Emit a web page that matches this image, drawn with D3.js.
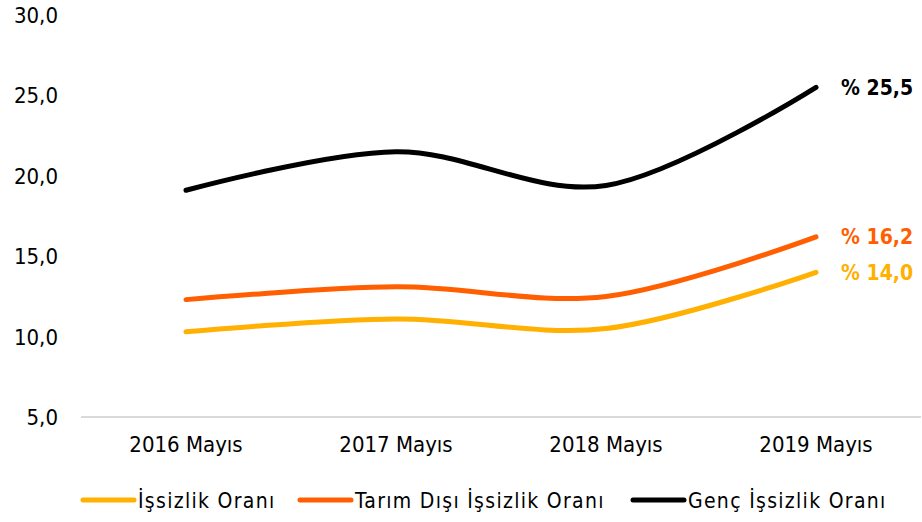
<!DOCTYPE html>
<html><head><meta charset="utf-8">
<script src="https://cdn.jsdelivr.net/npm/d3@7"></script>
<style>body{margin:0;background:#fff}svg{display:block}text{font-family:"DejaVu Sans Condensed","DejaVu Sans",sans-serif}</style>
</head><body><svg id="c" width="922" height="522"></svg>
<script>
const categories = ["2016 Mayıs","2017 Mayıs","2018 Mayıs","2019 Mayıs"];
const issizlik = [10.3, 11.1, 10.5, 14.0];
const tarimDisi = [12.3, 13.1, 12.5, 16.2];
const genc = [19.1, 21.5, 19.4, 25.5];
const yTicks = [5, 10, 15, 20, 25, 30];
const seriesNames = ["İşsizlik Oranı","Tarım Dışı İşsizlik Oranı","Genç İşsizlik Oranı"];
const seriesColors = ["#FFB000","#FF5F00","#000000"];
const endLabels = ["% 14,0","% 16,2","% 25,5"];

const series = [issizlik, tarimDisi, genc];
const svg = d3.select("#c");
const x = d3.scalePoint().domain(categories).range([186, 816]);
const y = d3.scaleLinear().domain([5, 30]).range([417, 15]);
const fmt = v => d3.format(".1f")(v).replace(".", ",");

// x axis line
svg.append("line").attr("x1", 81).attr("x2", 921).attr("y1", y(5)).attr("y2", y(5))
  .attr("stroke", "#d9d9d9").attr("stroke-width", 2);

// y tick labels
svg.selectAll(".yt").data(yTicks).join("text")
  .attr("x", 58).attr("y", d => y(d)).attr("dy", "0.36em")
  .attr("text-anchor", "end").attr("font-size", 22).attr("fill", "#000")
  .text(fmt);

// x tick labels
svg.selectAll(".xt").data(categories).join("text")
  .attr("x", d => x(d)).attr("y", 452)
  .attr("text-anchor", "middle").attr("font-size", 22).attr("fill", "#000")
  .text(d => d);

const line = d3.line().x((d, i) => x(categories[i])).y(d => y(d)).curve(d3.curveCatmullRom.alpha(0));

series.forEach((s, k) => {
  svg.append("path").attr("d", line(s)).attr("fill", "none")
    .attr("stroke", seriesColors[k]).attr("stroke-width", 5)
    .attr("stroke-linecap", "round").attr("stroke-linejoin", "round");
  svg.append("text").attr("x", x(categories[3]) + 25).attr("y", y(s[3])).attr("dy", "0.36em")
    .attr("font-size", 21).attr("font-weight", "bold").attr("fill", seriesColors[k])
    .text(endLabels[k]);
});

// legend
const legX = [81, 298, 631];
seriesNames.forEach((n, k) => {
  svg.append("line").attr("x1", legX[k] + 2).attr("x2", legX[k] + 53)
    .attr("y1", 500).attr("y2", 500).attr("stroke", seriesColors[k])
    .attr("stroke-width", 5).attr("stroke-linecap", "round");
  svg.append("text").attr("x", legX[k] + 57).attr("y", 500).attr("dy", "0.36em")
    .attr("font-size", 21).attr("letter-spacing", 1.3).attr("fill", "#000").text(n);
});
</script></body></html>
